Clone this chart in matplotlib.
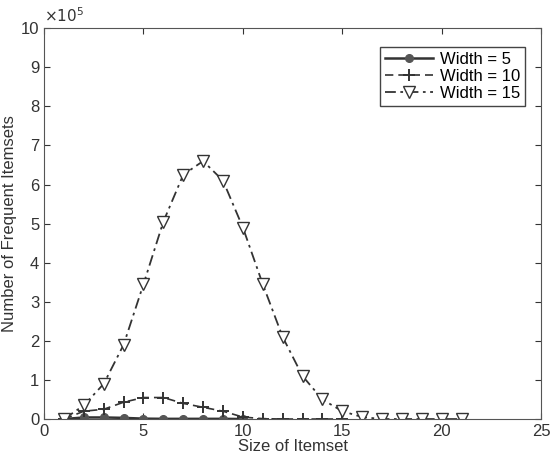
import matplotlib
matplotlib.use('Agg')
import matplotlib.pyplot as plt

plt.rcParams['font.family'] = ['Liberation Sans', 'DejaVu Sans']
plt.rcParams['font.size'] = 12

# values in units of 1e5
size_w5 = list(range(1, 11))
count_w5 = [0.0, 0.04, 0.04, 0.03, 0.01, 0.005, 0.005, 0.005, 0.005, 0.0]

size_w10 = list(range(1, 16))
count_w10 = [0.0, 0.2, 0.25, 0.43, 0.55, 0.55, 0.4, 0.3, 0.2, 0.05, 0.01, 0.0, 0.0, 0.0, 0.0]

size_w15 = list(range(1, 22))
count_w15 = [0.0, 0.35, 0.9, 1.9, 3.45, 5.05, 6.25, 6.6, 6.1, 4.9, 3.45,
             2.1, 1.1, 0.5, 0.2, 0.05, 0.0, 0.0, 0.0, 0.0, 0.0]

line_col = '#333333'

fig = plt.figure(figsize=(5.51, 4.62), dpi=100)
ax = fig.add_axes([0.08, 0.093, 0.902, 0.846])

ax.plot(size_w5, count_w5, '-', color=line_col, lw=1.8, marker='o', ms=5.5,
        mfc='#555555', mec='#555555', label='Width = 5')
ax.plot(size_w10, count_w10, color=line_col, lw=1.2, dashes=(5, 3), marker='+', ms=8,
        mew=1.4, label='Width = 10')
ax.plot(size_w15, count_w15, color=line_col, lw=1.3, dashes=(6, 2.5, 1.5, 2.5),
        marker='v', ms=8, mfc='white', mec=line_col, label='Width = 15')

ax.set_xlim(0, 25)
ax.set_ylim(0, 10)
ax.set_xticks([0, 5, 10, 15, 20, 25])
ax.set_yticks(range(0, 11))
ax.tick_params(direction='in', top=True, right=True, length=4, colors='#333333',
               labelcolor='#333333', labelsize=12)
for s in ax.spines.values():
    s.set_color('#555555')

ax.set_xlabel('Size of Itemset', color='#333333', labelpad=0, fontsize=12)
ax.set_ylabel('Number of Frequent Itemsets', color='#333333', labelpad=3, fontsize=12)
ax.text(0.0, 1.008, r'$\times10^5$', transform=ax.transAxes, fontsize=11,
        color='#333333', ha='left', va='bottom')

leg = ax.legend(loc='upper right', bbox_to_anchor=(0.984, 0.973), fancybox=False,
                edgecolor='#444444', framealpha=1, handlelength=2.9,
                borderpad=0.3, labelspacing=0.12, handletextpad=0.4, fontsize=12)
leg.get_frame().set_linewidth(1.0)

fig.savefig('out.png', dpi=100)
